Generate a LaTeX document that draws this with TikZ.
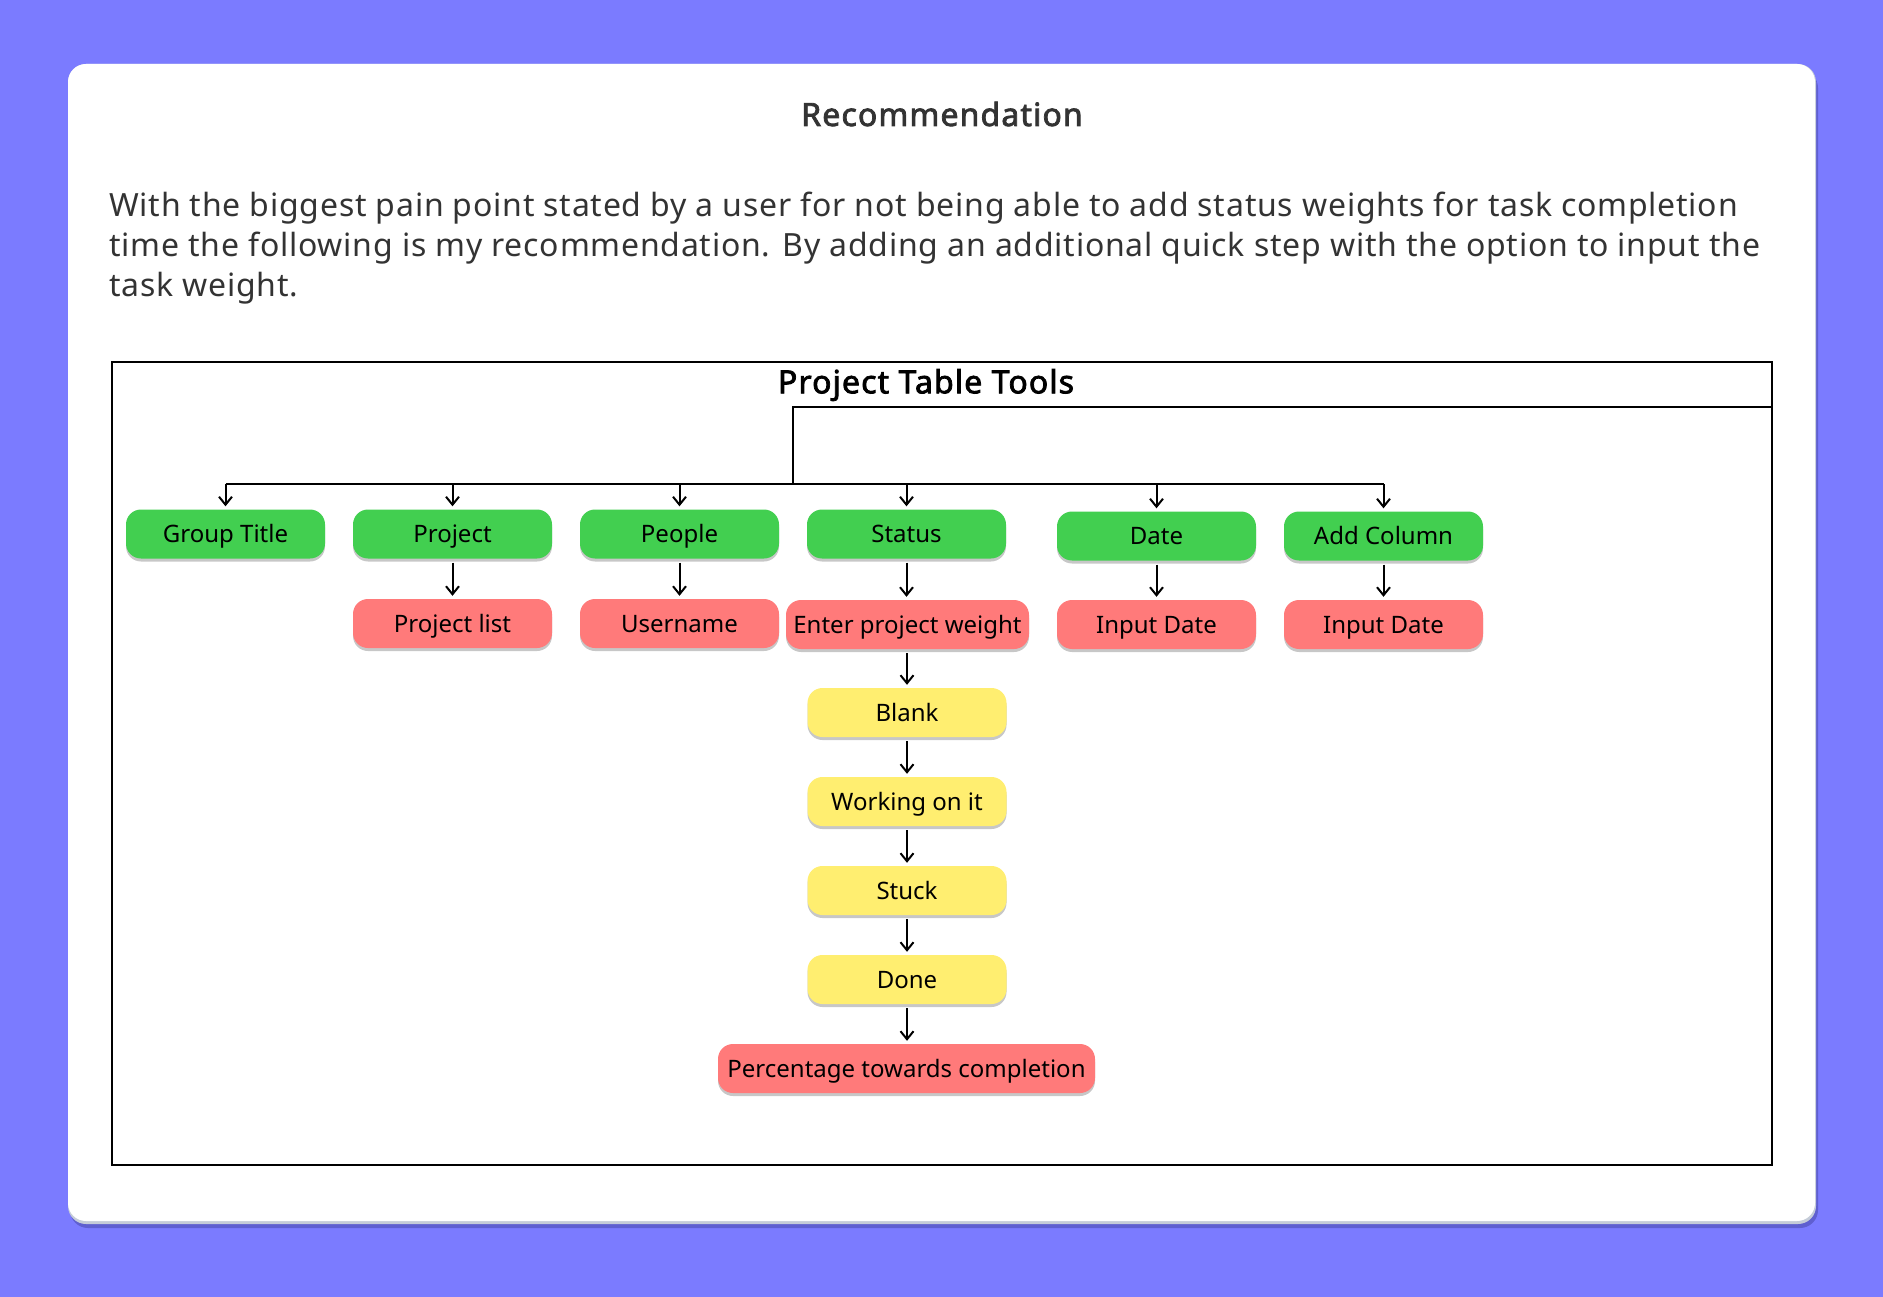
\documentclass[tikz,border=0pt]{standalone}
\usepackage{fontspec}
\setmainfont{Noto Sans}
\newfontfamily\parafont{Noto Sans}[LetterSpace=2.4]
\newfontfamily\heavyfont{Noto Sans}[FakeBold=2.4, LetterSpace=3.5]
\usetikzlibrary{arrows.meta,shadows}
\definecolor{bgpurple}{HTML}{7B7BFF}
\definecolor{shpurple}{HTML}{5F5FD0}
\definecolor{cardedge}{HTML}{C5CCD8}
\definecolor{txtgray}{HTML}{333333}
\definecolor{boxgreen}{HTML}{42CF50}
\definecolor{boxred}{HTML}{FF7A7A}
\definecolor{boxyellow}{HTML}{FFEE70}
\tikzset{
  box/.style={rounded corners=15pt, minimum width=199pt, minimum height=49pt, inner sep=0pt,
    font=\fontsize{24}{28}\selectfont, text=black, text height=17pt, text depth=0pt,
    drop shadow={shadow xshift=0pt, shadow yshift=-3pt, opacity=0.22, fill=black}},
  gbox/.style={box, fill=boxgreen},
  rbox/.style={box, fill=boxred},
  ybox/.style={box, fill=boxyellow},
  conn/.style={line width=2pt, draw=black},
  arr/.style={line width=2pt, draw=black, -{Straight Barb[length=8pt,width=13pt,line width=2pt]}, shorten >=1pt},
  para/.style={anchor=base west, inner sep=0pt, font=\parafont\fontsize{32}{40}\selectfont, text=txtgray}
}
\begin{document}
\begin{tikzpicture}[x=1pt,y=-1pt]
\fill[bgpurple] (0,0) rectangle (1883,1297);
\useasboundingbox (0,0) rectangle (1883,1297);
% card
\fill[shpurple, rounded corners=18pt] (70,70) rectangle (1818,1228);
\fill[cardedge, rounded corners=18pt] (68,64) rectangle (1816,1224);
\fill[white, rounded corners=18pt] (68,64) rectangle (1815,1221);
% header and text
\node[font=\heavyfont\fontsize{32}{36}\selectfont, text=txtgray] (title) at (942,114) {Recommendation};
\node[para] (p1) at (109,217) {With the biggest pain point stated by a user for not being able to add status weights for task completion};
\node[para] (p2) at (109,257) {time the following is my recommendation. By adding an additional quick step with the option to input the};
\node[para] (p3) at (109,297) {task weight.};
% frame
\draw[line width=2.5pt] (112,362) rectangle (1772,1165);
\node[font=\heavyfont\fontsize{32}{36}\selectfont, text=black] (ptt) at (926,385) {Project Table Tools};
% top row
\node[gbox] (gt) at (225.5,534) {Group Title};
\node[gbox] (proj) at (452.5,534) {Project};
\node[gbox] (ppl) at (679.5,534) {People};
\node[gbox] (stat) at (906.5,534) {Status};
\node[gbox] (date) at (1156.5,536) {Date};
\node[gbox] (addc) at (1383.5,536) {Add Column};
% second row
\node[rbox] (plist) at (452.5,623.5) {Project list};
\node[rbox] (uname) at (679.5,623.5) {Username};
\node[rbox, minimum width=243pt] (epw) at (907.5,624.5) {Enter project weight};
\node[rbox] (din) at (1156.5,624.5) {Input Date};
\node[rbox] (ain) at (1383.5,624.5) {Input Date};
% status column
\node[ybox] (blank) at (907,712.5) {Blank};
\node[ybox] (work) at (907,801.5) {Working on it};
\node[ybox] (stuck) at (907,890.5) {Stuck};
\node[ybox] (done) at (907,979.5) {Done};
\node[rbox, minimum width=377pt] (perc) at (906.5,1068.5) {Percentage towards completion};
% connectors
\coordinate (fr) at (1772,407);
\coordinate (hub) at (793,484);
\draw[conn] (fr) -| (hub);
\draw[conn] (gt.north |- hub) -- (addc.north |- hub);
\foreach \n in {gt,proj,ppl,stat,date,addc}{
  \draw[arr] (\n.north |- hub) -- ([yshift=2pt]\n.north);
}
\draw[arr] ([yshift=-4pt]proj.south) -- ([yshift=2pt]plist.north);
\draw[arr] ([yshift=-4pt]ppl.south) -- ([yshift=2pt]uname.north);
\draw[arr] ([yshift=-4pt]stat.south) -- ([yshift=2pt]stat.south |- epw.north);
\draw[arr] ([yshift=-4pt]date.south) -- ([yshift=2pt]din.north);
\draw[arr] ([yshift=-4pt]addc.south) -- ([yshift=2pt]ain.north);
\draw[arr] ([yshift=-4pt]blank.north |- epw.south) -- ([yshift=2pt]blank.north);
\draw[arr] ([yshift=-4pt]blank.south) -- ([yshift=2pt]work.north);
\draw[arr] ([yshift=-4pt]work.south) -- ([yshift=2pt]stuck.north);
\draw[arr] ([yshift=-4pt]stuck.south) -- ([yshift=2pt]done.north);
\draw[arr] ([yshift=-4pt]done.south) -- ([yshift=2pt]done.south |- perc.north);
\end{tikzpicture}
\end{document}
